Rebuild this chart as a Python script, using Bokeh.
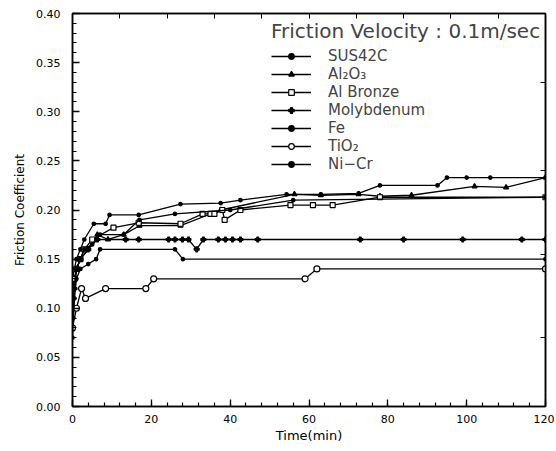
from bokeh.plotting import figure
from bokeh.models import (Range1d, SingleIntervalTicker, FixedTicker, LinearAxis,
                          Legend, LegendItem, NumeralTickFormatter, CustomJSTickFormatter)
from bokeh.embed import file_html
from bokeh.resources import INLINE

# ---- data (time in min, friction coefficient) ----
sus_t = [0, 0.5, 1, 2, 3, 5.4, 8.4, 9.4, 16.8, 27.4, 37.6, 42.6, 54.3, 63, 72.6, 78, 92.6, 95, 100, 106, 120]
sus_v = [0.13, 0.14, 0.15, 0.16, 0.17, 0.186, 0.186, 0.195, 0.195, 0.206, 0.207, 0.21, 0.216, 0.216, 0.217, 0.225, 0.225, 0.233, 0.233, 0.233, 0.233]

al2o3_t = [0, 0.5, 1, 2, 4, 6.3, 9, 13, 17, 27.4, 37.6, 56.3, 63, 72.6, 78, 86, 102, 110, 120]
al2o3_v = [0.11, 0.13, 0.14, 0.15, 0.16, 0.175, 0.17, 0.175, 0.184, 0.184, 0.20, 0.216, 0.215, 0.216, 0.214, 0.215, 0.224, 0.223, 0.233]

albr_t = [0, 0.5, 1, 2, 3, 5, 10.4, 16.8, 27.4, 33, 35, 36, 38, 38.6, 42.6, 55.3, 61, 66, 78, 120]
albr_v = [0.12, 0.13, 0.14, 0.15, 0.16, 0.17, 0.182, 0.187, 0.186, 0.196, 0.196, 0.196, 0.20, 0.19, 0.20, 0.205, 0.205, 0.205, 0.213, 0.213]

moly_t = [0, 0.5, 1, 2, 4, 6.3, 13.5, 16.8, 24.4, 26, 27.9, 29.4, 31.5, 33.2, 37, 38.8, 40.6, 42.6, 47, 73, 84, 99, 114, 120]
moly_v = [0.09, 0.12, 0.14, 0.15, 0.16, 0.17, 0.17, 0.17, 0.17, 0.17, 0.17, 0.17, 0.16, 0.17, 0.17, 0.17, 0.17, 0.17, 0.17, 0.17, 0.17, 0.17, 0.17, 0.17]

fe_t = [0, 0.5, 1, 2, 3, 5, 7, 13, 17, 26, 40, 56, 120]
fe_v = [0.10, 0.12, 0.14, 0.15, 0.16, 0.165, 0.175, 0.175, 0.19, 0.196, 0.20, 0.21, 0.213]

tio2_t = [0, 1, 2.3, 3.3, 8.4, 18.6, 20.6, 59, 62, 120]
tio2_v = [0.08, 0.10, 0.12, 0.11, 0.12, 0.12, 0.13, 0.13, 0.14, 0.14]

nicr_t = [0, 0.5, 1, 2, 4, 6, 7, 26, 28, 120]
nicr_v = [0.07, 0.11, 0.13, 0.14, 0.145, 0.15, 0.16, 0.16, 0.15, 0.15]

names = ["SUS42C", "Al\u2082O\u2083", "Al Bronze", "Molybdenum", "Fe", "TiO\u2082", "Ni\u2212Cr"]
series_t = [sus_t, al2o3_t, albr_t, moly_t, fe_t, tio2_t, nicr_t]
series_v = [sus_v, al2o3_v, albr_v, moly_v, fe_v, tio2_v, nicr_v]
legend_title = "Friction Velocity : 0.1m/sec"

top_ticks = [12, 24, 36, 48, 60, 72, 84, 96, 108]
right_ticks = [0.07, 0.155, 0.24, 0.33]

# marker styles (marker, size, fill)
styles = [("circle", 3.5, "black"), ("triangle", 5, "black"), ("square", 5, "white"),
          ("plus", 5, "black"), ("circle", 3.5, "black"), ("circle", 6, "white"),
          ("circle", 3.5, "black")]

FONT = "DejaVu Sans"

p = figure(frame_width=473, frame_height=393, output_backend="svg", toolbar_location=None,
           x_range=Range1d(0, 120), y_range=Range1d(0, 0.40),
           min_border_left=72, min_border_right=9, min_border_top=13, min_border_bottom=42)
p.grid.visible = False
p.outline_line_color = "black"
p.outline_line_width = 1.5
p.background_fill_color = "white"

items = []
for nm, t, v, (mk, sz, fill) in zip(names, series_t, series_v, styles):
    lr = p.line(t, v, line_color="black", line_width=1.3)
    sr = p.scatter(t, v, marker=mk, size=sz, line_color="black", fill_color=fill, line_width=1.2)
    items.append(LegendItem(label=nm, renderers=[lr, sr]))

# axes
xa = p.xaxis[0]
xa.ticker = SingleIntervalTicker(interval=20, num_minor_ticks=5)
xa.axis_label = "Time(min)"
ya = p.yaxis[0]
ya.ticker = SingleIntervalTicker(interval=0.05, num_minor_ticks=5)
ya.axis_label = "Friction Coefficient"
ya.formatter = NumeralTickFormatter(format="0.00")

for ax in (xa, ya):
    ax.axis_line_width = 1.5
    ax.major_tick_in = 7
    ax.major_tick_out = 0
    ax.minor_tick_in = 4
    ax.minor_tick_out = 0
    ax.major_tick_line_width = 1.3
    ax.minor_tick_line_width = 1.2
    ax.major_label_text_font = FONT
    ax.major_label_text_font_size = "11px"
    ax.major_label_text_color = "black"
    ax.axis_label_text_font = FONT
    ax.axis_label_text_font_style = "normal"
    ax.axis_label_text_color = "black"
ya.major_label_standoff = 12
xa.major_label_standoff = 8
ya.axis_label_text_font_size = "12px"
xa.axis_label_text_font_size = "13px"
xa.axis_label_standoff = 2
ya.axis_label_standoff = 6

blank = CustomJSTickFormatter(code="return ''")
top = LinearAxis(ticker=FixedTicker(ticks=top_ticks), formatter=blank,
                 major_tick_in=5, major_tick_out=0,
                 minor_tick_in=0, minor_tick_out=0, axis_line_width=1.5)
p.add_layout(top, "above")
right = LinearAxis(ticker=FixedTicker(ticks=right_ticks), formatter=blank,
                   major_tick_in=5, major_tick_out=0,
                   minor_tick_in=0, minor_tick_out=0, axis_line_width=1.5)
p.add_layout(right, "right")

leg = Legend(items=items, location=(199, 233), title=legend_title)
leg.title_text_font = FONT
leg.title_text_font_size = "20px"
leg.title_text_font_style = "normal"
leg.title_standoff = 4
leg.label_text_font = FONT
leg.label_text_font_size = "15px"
leg.glyph_width = 40
leg.glyph_height = 14
leg.label_height = 14
leg.spacing = 0
leg.label_standoff = 17
leg.padding = 2
leg.border_line_color = None
leg.background_fill_alpha = 0
p.add_layout(leg, "center")

open("out.html", "w").write(file_html(p, INLINE))
